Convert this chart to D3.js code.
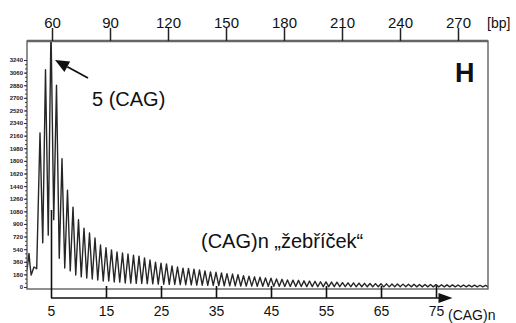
<!DOCTYPE html>
<html>
<head>
<meta charset="utf-8">
<script src="https://cdn.jsdelivr.net/npm/d3@7"></script>
<style>
  body { margin: 0; background: #fff; }
  svg { display: block; font-family: "Liberation Sans", Arial, sans-serif; }
</style>
</head>
<body>
<svg id="chart" width="516" height="323"></svg>
<script>
// tick labels
const bpTicks = [60, 90, 120, 150, 180, 210, 240, 270];
const cagTicks = [5, 15, 25, 35, 45, 55, 65, 75];
const signalTicks = [0, 180, 360, 540, 720, 900, 1080, 1260, 1440, 1620, 1800,
  1980, 2160, 2340, 2520, 2700, 2880, 3060, 3240];

// baseline noise before the ladder (x in CAG repeats)
const leadRepeats = [0.64, 1.0, 1.2, 1.4, 1.9, 2.4];
const leadSignal = [240, 480, 300, 170, 285, 260];

// stutter ladder: one peak per repeat, starting at (CAG)3, trough after each
const firstRepeat = 3;
const peakSignal = [
  2200, 3100, 3700, 2880, 1830, 1380, 1140, 960, 840, 770,
  700, 600, 560, 530, 500, 485, 470, 455, 440, 415,
  385, 355, 340, 330, 300, 285, 270, 265, 255, 245,
  230, 215, 210, 200, 190, 185, 175, 160, 155, 145,
  140, 130, 125, 115, 110, 100, 98, 95, 88, 85,
  82, 75, 72, 70, 68, 62, 60, 58, 56, 52,
  50, 48, 46, 45, 44, 42, 41, 40, 38, 37,
  36, 35, 34, 32, 31, 30, 29, 28, 27, 26,
  25, 24
];
const troughSignal = [
  630, 740, 960, 410, 270, 230, 170, 145, 128, 114,
  100, 86, 85, 71, 70, 57, 55, 52, 50, 48,
  45, 42, 40, 38, 36, 34, 32, 30, 28, 26,
  24, 22, 20, 18, 16, 15, 14, 13, 12, 11,
  10, 10, 9, 9, 8, 8, 7, 7, 6, 6,
  5, 5, 5, 4, 4, 4, 4, 3, 3, 3,
  3, 3, 2, 2, 2, 2, 2, 2, 2, 2,
  2, 2, 2, 2, 2, 2, 2, 2, 2, 2,
  2, 2
];
const cagAxisEnd = 78;

const svg = d3.select('#chart');
const frame = { left: 27, top: 41, right: 488, bottom: 289 };

const xBp = d3.scaleLinear().domain([60, 270]).range([52, 458]);
const xCag = d3.scaleLinear().domain([5, 75]).range([51, 436]);
const y = d3.scaleLinear().domain([0, 3240]).range([287, 60]);

// trace points
const trace = leadRepeats.map((n, i) => [n, leadSignal[i]]);
peakSignal.forEach((v, i) => {
  const n = firstRepeat + i;
  trace.push([n, v]);
  trace.push([n + 0.5, troughSignal[i]]);
});

svg.append('clipPath').attr('id', 'plotClip')
  .append('rect')
  .attr('x', frame.left)
  .attr('y', frame.top)
  .attr('width', frame.right - frame.left)
  .attr('height', frame.bottom - frame.top);

const line = d3.line()
  .x(d => xCag(d[0]))
  .y(d => y(d[1]));

svg.append('path')
  .datum(trace)
  .attr('clip-path', 'url(#plotClip)')
  .attr('fill', 'none')
  .attr('stroke', '#262626')
  .attr('stroke-width', 1.4)
  .attr('stroke-linejoin', 'round')
  .attr('d', line);

// frame
svg.append('rect')
  .attr('x', frame.left)
  .attr('y', frame.top)
  .attr('width', frame.right - frame.left)
  .attr('height', frame.bottom - frame.top)
  .attr('fill', 'none')
  .attr('stroke', '#555')
  .attr('stroke-width', 1.3);
svg.append('line')
  .attr('x1', frame.left).attr('x2', frame.right)
  .attr('y1', frame.top).attr('y2', frame.top)
  .attr('stroke', '#666')
  .attr('stroke-width', 2.6);

// top axis (bp)
const topAxis = svg.append('g')
  .attr('transform', 'translate(0,' + frame.top + ')')
  .call(d3.axisTop(xBp).tickValues(bpTicks).tickSize(13).tickPadding(0).tickSizeOuter(0));
topAxis.select('.domain').remove();
topAxis.selectAll('line').attr('stroke', '#222').attr('stroke-width', 1.5);
topAxis.selectAll('text').attr('font-size', 15).attr('fill', '#111')
  .attr('font-family', '"Liberation Sans", Arial, sans-serif');

svg.append('text')
  .attr('x', 487).attr('y', 28)
  .attr('font-size', 14).attr('fill', '#111')
  .text('[bp]');

// left axis (signal)
const leftMinor = svg.append('g')
  .attr('transform', 'translate(' + frame.left + ',0)')
  .call(d3.axisLeft(y).tickValues(d3.range(0, 3241, 60)).tickSize(2).tickFormat(''));
leftMinor.select('.domain').remove();
leftMinor.selectAll('line').attr('stroke', '#444');

const leftAxis = svg.append('g')
  .attr('transform', 'translate(' + frame.left + ',0)')
  .call(d3.axisLeft(y).tickValues(signalTicks).tickSize(3).tickPadding(1).tickFormat(d3.format('d')));
leftAxis.select('.domain').remove();
leftAxis.selectAll('line').attr('stroke', '#333');
leftAxis.selectAll('text').attr('font-size', 6).attr('font-weight', 'bold').attr('fill', '#222')
  .attr('font-family', '"Liberation Sans", Arial, sans-serif');

// bottom axis ((CAG)n)
const axisY = 298;
const bottomAxis = svg.append('g')
  .attr('transform', 'translate(0,' + axisY + ')')
  .call(d3.axisBottom(xCag).tickValues(cagTicks).tickSizeInner(-12).tickSizeOuter(0).tickPadding(8));
bottomAxis.select('.domain').remove();
bottomAxis.selectAll('line').attr('stroke', '#111').attr('stroke-width', 1.6);
bottomAxis.selectAll('.tick').filter(d => d === 5).select('line').attr('y2', -88);
bottomAxis.selectAll('text').attr('font-size', 14).attr('fill', '#111')
  .attr('font-family', '"Liberation Sans", Arial, sans-serif');

const tipX = xCag(cagAxisEnd);
svg.append('line')
  .attr('x1', xCag(5)).attr('x2', tipX - 6)
  .attr('y1', axisY).attr('y2', axisY)
  .attr('stroke', '#111').attr('stroke-width', 1.6);
svg.append('path')
  .attr('d', 'M' + tipX + ',' + axisY + 'L' + (tipX - 14) + ',' + (axisY - 5) + 'L' + (tipX - 14) + ',' + (axisY + 5) + 'Z')
  .attr('fill', '#111');
svg.append('text')
  .attr('x', 448).attr('y', 320)
  .attr('font-size', 14).attr('fill', '#111')
  .text('(CAG)n');

// annotations
const arrowTip = [xCag(5) + 4, y(3240)];
const arrowTail = [88, 78];
const ang = Math.atan2(arrowTail[1] - arrowTip[1], arrowTail[0] - arrowTip[0]);
const headLen = 14, headW = 6;
const bx = arrowTip[0] + Math.cos(ang) * headLen, by = arrowTip[1] + Math.sin(ang) * headLen;
svg.append('line')
  .attr('x1', arrowTail[0]).attr('y1', arrowTail[1])
  .attr('x2', bx).attr('y2', by)
  .attr('stroke', '#111').attr('stroke-width', 1.8);
svg.append('path')
  .attr('d', 'M' + arrowTip[0] + ',' + arrowTip[1] +
    'L' + (bx - Math.sin(ang) * headW) + ',' + (by + Math.cos(ang) * headW) +
    'L' + (bx + Math.sin(ang) * headW) + ',' + (by - Math.cos(ang) * headW) + 'Z')
  .attr('fill', '#111');

svg.append('text')
  .attr('x', 92).attr('y', 106)
  .attr('font-size', 20).attr('fill', '#111')
  .text('5 (CAG)');

svg.append('text')
  .attr('x', 455).attr('y', 82)
  .attr('font-size', 27).attr('font-weight', 'bold').attr('fill', '#111')
  .text('H');

svg.append('text')
  .attr('x', 201).attr('y', 248)
  .attr('font-size', 20).attr('fill', '#111')
  .text('(CAG)n „žebříček“');
</script>
</body>
</html>
